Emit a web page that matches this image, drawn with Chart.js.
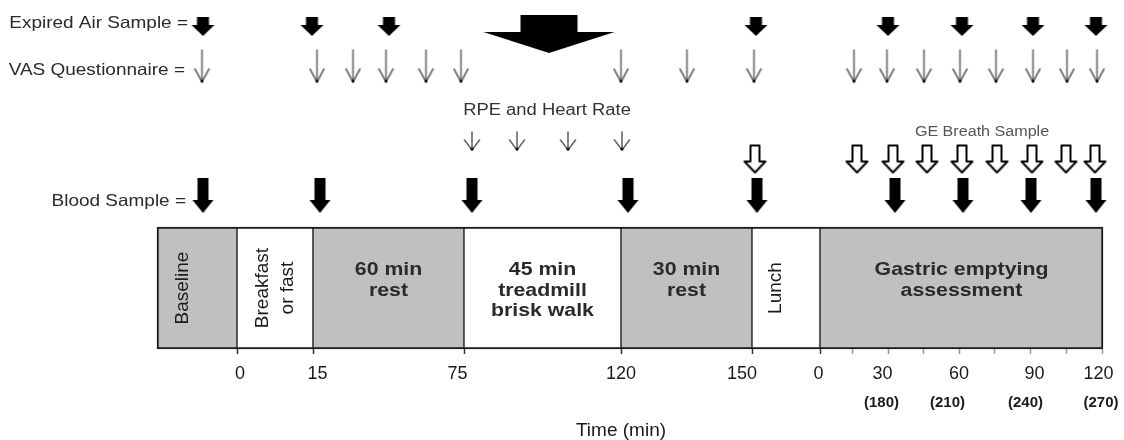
<!DOCTYPE html>
<html>
<head>
<meta charset="utf-8">
<title>Study protocol</title>
<script src="https://cdn.jsdelivr.net/npm/chart.js@4.4.1/dist/chart.umd.min.js"></script>
<style>
  html, body { margin: 0; padding: 0; background: #ffffff; }
  canvas { display: block; }
</style>
</head>
<body>
<canvas id="chart" width="1124" height="440"></canvas>
<script>
// x = position along the protocol strip (0-100), y = height on the sheet (0 top, 34.9 strip bottom)

const phaseLabels = [
  ['Baseline'],
  ['Breakfast', 'or fast'],
  ['60 min', 'rest'],
  ['45 min', 'treadmill', 'brisk walk'],
  ['30 min', 'rest'],
  ['Lunch'],
  ['Gastric emptying', 'assessment'],
];
const phaseEdges = [3.6, 11.6, 19.2, 34.3, 50.0, 63.1, 69.9, 98.2];

const expiredAir = [8.2, 19.1, 26.8, 63.5, 76.7, 84.1, 91.2, 97.5];
const expiredAirWalk = [42.8];
const vasQuestionnaire = [8.1, 19.6, 23.2, 26.5, 30.5, 34.0, 50.0, 56.6, 63.3, 73.3, 76.6, 80.3, 83.9, 87.5, 91.2, 94.6, 97.6];
const rpeHeartRate = [35.1, 39.6, 44.7, 50.1];
const geBreath = [63.4, 73.6, 77.2, 80.6, 84.1, 87.6, 91.1, 94.5, 97.4];
const bloodSample = [8.2, 19.9, 35.1, 50.7, 63.6, 77.4, 84.2, 91.0, 97.5];

const timeTicks = [11.9, 19.65, 33.65, 50.0, 62.1, 69.75, 76.15, 83.8, 91.35, 97.75];
const timeLabels = ['0', '15', '75', '120', '150', '0', '30', '60', '90', '120'];
const clockTicks = [76.05, 82.65, 90.45, 98.0];
const clockLabels = ['(180)', '(210)', '(240)', '(270)'];
const phaseTicks = [11.6, 19.2, 34.3, 50.0, 63.1, 69.9];
const geTicks = [73.1, 76.7, 80.2, 83.8, 87.3, 90.9, 94.5, 98.1];

// layout + look
const rows = { expired: 2.65, walk: 3.4, vas: 6.6, rpeText: 11.1, rpe: 14.1, geText: 13.25, ge: 15.9, blood: 19.55, strip: 28.8 };
const rowLabels = [
  { text: 'Expired Air Sample =', x: 6.7, y: 2.35 },
  { text: 'VAS Questionnaire =', x: 6.4, y: 7.05 },
  { text: 'Blood Sample =', x: 6.5, y: 20.1 },
];
const phaseFill = ['#c0c0c0', '#ffffff', '#c0c0c0', '#ffffff', '#c0c0c0', '#ffffff', '#c0c0c0'];
const phaseRotated = [true, true, false, false, false, true, false];
const phaseShift = [-1.45, 0, 0, 0, 0, -1.0, 0];
const textTop = 27.0, lineGap = 2.05, rotGap = 2.5;
const TEXT_STRETCH = 1.15;
const INK = '#222';
const FONT = "'Liberation Sans', Arial, sans-serif";

Chart.defaults.font.family = FONT;

function sheet(w, h) {
  const c = document.createElement('canvas');
  c.width = w;
  c.height = h;
  return c;
}

// block arrow, filled or hollow
function blockArrow({ w, h, shaft, head }, hollow) {
  const m = 3;
  const c = sheet(w + 2 * m, h + 2 * m);
  const g = c.getContext('2d');
  g.translate(m, m);
  const cx = w / 2, s = shaft / 2, hy = h - head;
  g.beginPath();
  g.moveTo(cx - s, 0);
  g.lineTo(cx + s, 0);
  g.lineTo(cx + s, hy);
  g.lineTo(w, hy);
  g.lineTo(cx, h);
  g.lineTo(0, hy);
  g.lineTo(cx - s, hy);
  g.closePath();
  if (hollow) {
    g.fillStyle = '#fff';
    g.fill();
    g.lineWidth = 2;
    g.lineJoin = 'round';
    g.strokeStyle = '#000';
    g.stroke();
  } else {
    g.fillStyle = '#000';
    g.fill();
  }
  return c;
}

// thin line arrow with open V head
function lineArrow({ w, h, head }) {
  const m = 2;
  const c = sheet(w + 2 * m, h + 2 * m);
  const g = c.getContext('2d');
  g.translate(m, m);
  const cx = w / 2;
  g.strokeStyle = '#666';
  g.lineWidth = 1.6;
  g.lineCap = 'round';
  g.beginPath();
  g.moveTo(cx, 0);
  g.lineTo(cx, h - 1);
  g.stroke();
  g.beginPath();
  g.moveTo(0.5, h - head);
  g.lineTo(cx, h);
  g.lineTo(w - 0.5, h - head);
  g.stroke();
  g.fillStyle = '#111';
  g.beginPath();
  g.arc(cx, h - 1, 1.6, 0, Math.PI * 2);
  g.fill();
  return c;
}

const arrows = {
  expired: blockArrow({ w: 23, h: 19, shaft: 12, head: 11 }),
  walk: blockArrow({ w: 131, h: 38, shaft: 57, head: 21 }),
  blood: blockArrow({ w: 21, h: 35, shaft: 11, head: 13 }),
  ge: blockArrow({ w: 21, h: 27, shaft: 9, head: 11 }, true),
  vas: lineArrow({ w: 15, h: 32, head: 13 }),
  rpe: lineArrow({ w: 16, h: 18, head: 10 }),
};

const arrowSet = (label, values, y, style) => ({
  type: 'scatter',
  label,
  data: values.map(v => ({ x: v, y })),
  pointStyle: style,
  pointRadius: 6,
  pointHoverRadius: 6,
  clip: false,
});

const last = phaseLabels.length - 1;
const strip = {
  type: 'bar',
  label: 'Protocol',
  indexAxis: 'y',
  data: phaseLabels.map((_, i) => ({ x: [phaseEdges[i], phaseEdges[i + 1]], y: rows.strip })),
  backgroundColor: phaseFill,
  borderColor: '#1a1a1a',
  borderWidth: ctx => ({ top: 2, bottom: 2, left: ctx.dataIndex === 0 ? 2 : 1, right: ctx.dataIndex === last ? 2 : 1 }),
  borderSkipped: false,
  barThickness: 122,
  clip: false,
};

const textPlugin = {
  id: 'protocolText',
  afterDatasetsDraw(chart) {
    const { ctx, scales: { x, y } } = chart;
    const put = (str, xv, yv, font, opts = {}) => {
      ctx.save();
      ctx.translate(x.getPixelForValue(xv), y.getPixelForValue(yv));
      if (opts.rotate) ctx.rotate(-Math.PI / 2);
      else ctx.scale(TEXT_STRETCH, 1);
      ctx.font = font;
      ctx.fillStyle = opts.color || INK;
      ctx.textAlign = opts.align || 'center';
      ctx.textBaseline = 'middle';
      ctx.fillText(str, 0, 0);
      ctx.restore();
    };

    rowLabels.forEach(r => put(r.text, r.x, r.y, `16.5px ${FONT}`, { align: 'right', color: '#2a2a2a' }));
    put('RPE and Heart Rate', 42.6, rows.rpeText, `16px ${FONT}`, { color: '#333' });
    put('GE Breath Sample', 86.1, rows.geText, `14px ${FONT}`, { color: '#555' });

    phaseLabels.forEach((lines, i) => {
      const mid = (phaseEdges[i] + phaseEdges[i + 1]) / 2 + phaseShift[i];
      if (phaseRotated[i]) {
        const first = mid - (lines.length - 1) * rotGap / 2;
        lines.forEach((t, k) => put(t, first + k * rotGap, rows.strip, `19px ${FONT}`, { rotate: true, color: '#1a1a1a' }));
      } else {
        lines.forEach((t, k) => put(t, mid, textTop + k * lineGap, `bold 18.5px ${FONT}`, { color: '#2a2a2a' }));
      }
    });
  },
};

const labelAxis = (ticks, labels, font, padding, extra = {}) => ({
  type: 'linear',
  axis: 'x',
  min: 0,
  max: 100,
  position: 'bottom',
  afterBuildTicks: s => { s.ticks = ticks.map(value => ({ value })); },
  ticks: {
    autoSkip: false,
    maxRotation: 0,
    minRotation: 0,
    padding,
    color: '#1a1a1a',
    font,
    callback: (v, i) => labels[i],
  },
  grid: { display: false, drawTicks: false },
  border: { display: false },
  ...extra,
});

new Chart(document.getElementById('chart'), {
  type: 'scatter',
  data: {
    datasets: [
      strip,
      arrowSet('Expired Air Sample', expiredAir, rows.expired, arrows.expired),
      arrowSet('Expired Air (walk)', expiredAirWalk, rows.walk, arrows.walk),
      arrowSet('VAS Questionnaire', vasQuestionnaire, rows.vas, arrows.vas),
      arrowSet('RPE and Heart Rate', rpeHeartRate, rows.rpe, arrows.rpe),
      arrowSet('GE Breath Sample', geBreath, rows.ge, arrows.ge),
      arrowSet('Blood Sample', bloodSample, rows.blood, arrows.blood),
    ],
  },
  options: {
    responsive: false,
    animation: false,
    events: [],
    layout: { autoPadding: false, padding: { left: 121, right: 3, top: 0, bottom: 0 } },
    plugins: { legend: { display: false }, tooltip: { enabled: false } },
    scales: {
      x: {
        type: 'linear',
        min: 0,
        max: 100,
        position: 'bottom',
        afterBuildTicks: s => { s.ticks = phaseTicks.concat(geTicks).map(value => ({ value })); },
        ticks: { display: false, autoSkip: false },
        grid: {
          display: true,
          drawOnChartArea: false,
          drawTicks: true,
          tickLength: 5,
          tickWidth: 1.5,
          tickColor: c => (phaseTicks.includes(c.tick.value) ? '#333' : '#999'),
        },
        border: { display: false },
      },
      xTime: labelAxis(timeTicks, timeLabels, { size: 18 }, 9.2),
      xClock: labelAxis(clockTicks, clockLabels, { size: 15, weight: 'bold' }, 0, {
        title: {
          display: true,
          text: 'Time (min)',
          color: '#1a1a1a',
          font: { size: 19, lineHeight: 1 },
          padding: { top: 9, bottom: 0 },
        },
      }),
      // kept "displayed" but empty so it spans the chart area exactly
      y: {
        type: 'linear',
        min: 0,
        max: 34.9,
        reverse: true,
        offset: false,
        grace: 0,
        display: true,
        ticks: { display: false },
        grid: { display: false, drawTicks: false },
        border: { display: false },
      },
    },
  },
  plugins: [textPlugin],
});
</script>
</body>
</html>
